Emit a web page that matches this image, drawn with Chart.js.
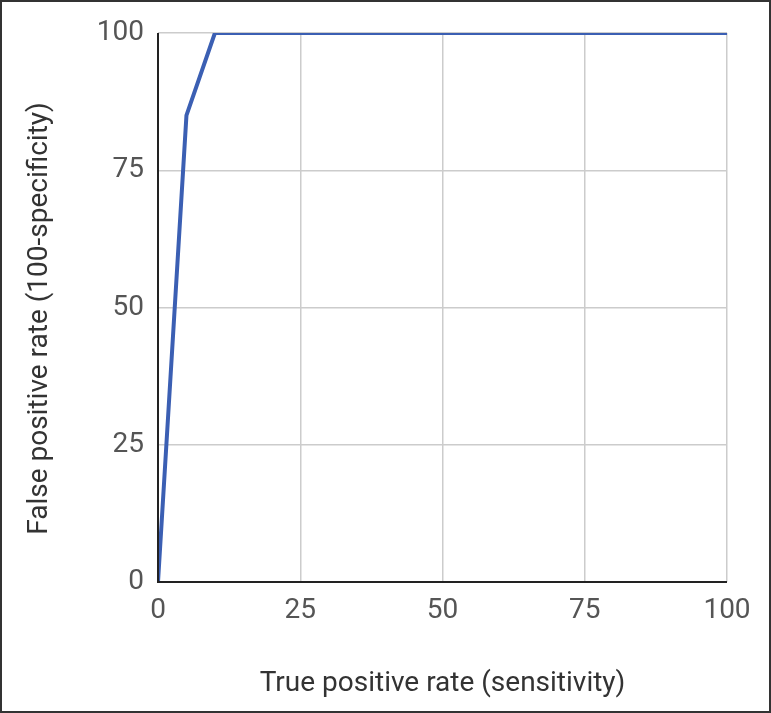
<!DOCTYPE html>
<html>
<head>
<meta charset="utf-8">
<script src="https://cdn.jsdelivr.net/npm/chart.js@4/dist/chart.umd.min.js"></script>
<style>
  html, body { margin: 0; padding: 0; background: #fff; }
  #wrap { width: 771px; height: 713px; position: relative; }
  canvas { display: block; }
</style>
</head>
<body>
<div id="wrap"><canvas id="roc"></canvas></div>
<script>
// ROC curve points
const sensitivity = [0, 5, 10, 100];
const falsePositive = [0, 85, 100, 100];
const tickValues = [0, 25, 50, 75, 100];

const xTitle = 'True positive rate (sensitivity)';
const yTitle = 'False positive rate (100-specificity)';

const points = sensitivity.map((x, i) => ({ x, y: falsePositive[i] }));

const frame = {
    id: 'frame',
    afterDraw(chart) {
        const { ctx, width, height, chartArea } = chart;
        ctx.save();
        // black axis lines
        ctx.strokeStyle = '#222';
        ctx.lineWidth = 2;
        ctx.beginPath();
        ctx.moveTo(chartArea.left, chartArea.top);
        ctx.lineTo(chartArea.left, chartArea.bottom);
        ctx.lineTo(chartArea.right, chartArea.bottom);
        ctx.stroke();

        // y title sits a little below the axis centre in the original
        ctx.translate(40, (chartArea.top + chartArea.bottom) / 2 + 11);
        ctx.rotate(-Math.PI / 2);
        ctx.font = "28px 'Roboto'";
        ctx.fillStyle = '#333';
        ctx.textAlign = 'center';
        ctx.textBaseline = 'middle';
        ctx.fillText(yTitle, 0, 0);
        ctx.setTransform(1, 0, 0, 1, 0, 0);

        // outer border
        ctx.strokeStyle = '#333';
        ctx.lineWidth = 2;
        ctx.strokeRect(1, 1, width - 2, height - 2);
        ctx.restore();
    }
};

new Chart(document.getElementById('roc'), {
    type: 'line',
    data: {
        datasets: [{
            data: points,
            borderColor: '#3b5fb3',
            borderWidth: 4,
            pointRadius: 0,
            tension: 0,
            fill: false
        }]
    },
    options: {
        responsive: true,
        maintainAspectRatio: false,
        animation: false,
        layout: { padding: { left: 0, top: 33, right: 44, bottom: 0 } },
        plugins: { legend: { display: false }, tooltip: { enabled: false } },
        scales: {
            x: {
                type: 'linear',
                min: 0,
                max: 100,
                afterBuildTicks(axis) { axis.ticks = tickValues.map(v => ({ value: v })); },
                afterFit(axis) { axis.height = 131; },
                border: { display: false },
                grid: { color: '#cccccc', lineWidth: 1.5, drawTicks: false },
                ticks: { padding: 12, color: '#555', font: { family: 'Roboto', size: 28 } },
                title: {
                    display: true,
                    text: xTitle,
                    color: '#333',
                    font: { family: 'Roboto', size: 28 },
                    padding: { top: 0, bottom: 12 }
                }
            },
            y: {
                min: 0,
                max: 100,
                afterBuildTicks(axis) { axis.ticks = tickValues.map(v => ({ value: v })); },
                afterFit(axis) { axis.width = 158; },
                border: { display: false },
                grid: { color: '#cccccc', lineWidth: 1.5, drawTicks: false },
                ticks: { padding: 14, color: '#555', font: { family: 'Roboto', size: 28 } },
                title: { display: false }
            }
        }
    },
    plugins: [frame]
});
</script>
</body>
</html>
